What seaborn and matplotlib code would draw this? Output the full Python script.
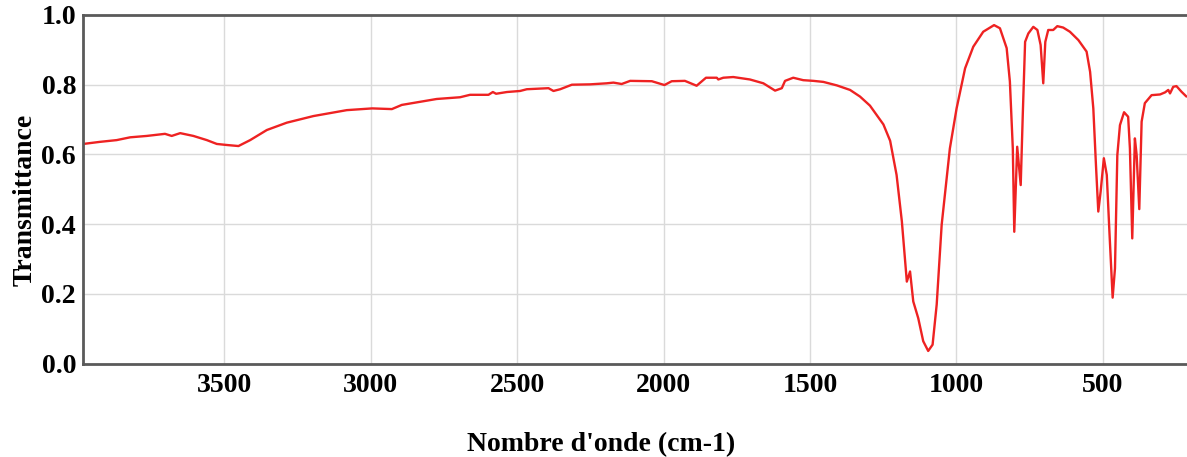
import matplotlib
matplotlib.use('Agg')
import matplotlib.pyplot as plt
import seaborn as sns
import pandas as pd

# ── IR spectrum ──────────────────────────────────────────
WAVENUMBER = [
    3982, 3925, 3868, 3822, 3765, 3703, 3680, 3651, 3606, 3560,
    3526, 3492, 3452, 3412, 3355, 3287, 3196, 3082, 2995, 2928,
    2894, 2832, 2775, 2695, 2661, 2598, 2583, 2572, 2535, 2490,
    2467, 2393, 2376, 2353, 2313, 2251, 2194, 2171, 2143, 2114,
    2040, 1997, 1972, 1927, 1887, 1855, 1818, 1813, 1796, 1762,
    1705, 1659, 1619, 1596, 1585, 1557, 1523, 1488, 1454, 1408,
    1363, 1329, 1295, 1249, 1226, 1204, 1186, 1169, 1158, 1147,
    1130, 1113, 1096, 1081, 1067, 1050, 1022, 999, 970, 942,
    908, 871, 851, 828, 817, 807, 802, 792, 780, 773,
    765, 754, 737, 723, 712, 703, 696, 686, 669, 655,
    635, 612, 583, 555, 543, 532, 523, 515, 507, 496,
    486, 477, 466, 458, 450, 441, 427, 413, 407, 399,
    390, 384, 375, 367, 356, 333, 304, 287, 276, 270,
    259, 248, 231, 214,
]
TRANSMITTANCE = [
    0.630, 0.636, 0.641, 0.649, 0.653, 0.659, 0.653, 0.661, 0.653, 0.641,
    0.630, 0.627, 0.624, 0.641, 0.670, 0.691, 0.710, 0.727, 0.732, 0.730,
    0.742, 0.751, 0.759, 0.764, 0.771, 0.771, 0.779, 0.774, 0.779, 0.782,
    0.787, 0.790, 0.782, 0.787, 0.800, 0.801, 0.804, 0.806, 0.802, 0.811,
    0.810, 0.799, 0.810, 0.811, 0.797, 0.820, 0.820, 0.815, 0.820, 0.822,
    0.815, 0.804, 0.783, 0.790, 0.811, 0.820, 0.813, 0.811, 0.808, 0.798,
    0.785, 0.766, 0.740, 0.686, 0.639, 0.541, 0.408, 0.235, 0.264, 0.178,
    0.130, 0.064, 0.036, 0.054, 0.169, 0.398, 0.617, 0.732, 0.847, 0.909,
    0.952, 0.971, 0.962, 0.905, 0.809, 0.617, 0.378, 0.622, 0.512, 0.713,
    0.923, 0.947, 0.966, 0.957, 0.914, 0.804, 0.923, 0.957, 0.957, 0.968,
    0.964, 0.952, 0.928, 0.895, 0.837, 0.732, 0.570, 0.436, 0.493, 0.589,
    0.541, 0.378, 0.189, 0.273, 0.598, 0.684, 0.721, 0.708, 0.617, 0.359,
    0.646, 0.598, 0.443, 0.694, 0.747, 0.770, 0.772, 0.778, 0.785, 0.775,
    0.794, 0.796, 0.780, 0.766,
]
X_TICKS = [3500, 3000, 2500, 2000, 1500, 1000, 500]
Y_TICKS = [0.0, 0.2, 0.4, 0.6, 0.8, 1.0]

LINE_CLR = '#ee2222'
SPINE    = '#5a5a5a'
GRID     = '#dadada'
TEXT     = '#000000'
FONT     = ['Liberation Serif', 'DejaVu Serif']
FSIZE    = 20

sns.set_style('whitegrid')
plt.rcParams['font.family'] = FONT

df = pd.DataFrame({'wn': WAVENUMBER, 'T': TRANSMITTANCE})

fig = plt.figure(figsize=(11.87, 4.57), dpi=100)
ax = fig.add_axes([83 / 1187, (457 - 363.5) / 457, 1 - 83 / 1187, 348.5 / 457])

sns.lineplot(data=df, x='wn', y='T', sort=False, color=LINE_CLR,
             linewidth=1.7, ax=ax)

ax.set_xlim(3983, 212)
ax.set_ylim(0, 1)
ax.set_xticks(X_TICKS)
ax.set_yticks(Y_TICKS)
ax.set_xticklabels([str(t) for t in X_TICKS])
ax.set_yticklabels([f'{t:.1f}' for t in Y_TICKS])
ax.tick_params(axis='both', length=0, labelsize=FSIZE, labelcolor=TEXT)
ax.tick_params(axis='x', pad=7)
ax.tick_params(axis='y', pad=5)
for lbl in ax.get_xticklabels() + ax.get_yticklabels():
    lbl.set_fontweight('bold')

ax.grid(True, color=GRID, linewidth=1.0)
for side in ['left', 'bottom', 'top']:
    ax.spines[side].set_color(SPINE)
    ax.spines[side].set_linewidth(2)
ax.spines['right'].set_visible(False)

ax.set_xlabel("Nombre d'onde (cm-1)", fontsize=FSIZE, fontweight='bold',
              color=TEXT)
ax.set_ylabel('Transmittance', fontsize=FSIZE, fontweight='bold', color=TEXT)
ax.xaxis.set_label_coords(0.469, -0.196)
ax.yaxis.set_label_coords(-0.041, 0.469)

fig.savefig('out.png', dpi=100, facecolor='white')
